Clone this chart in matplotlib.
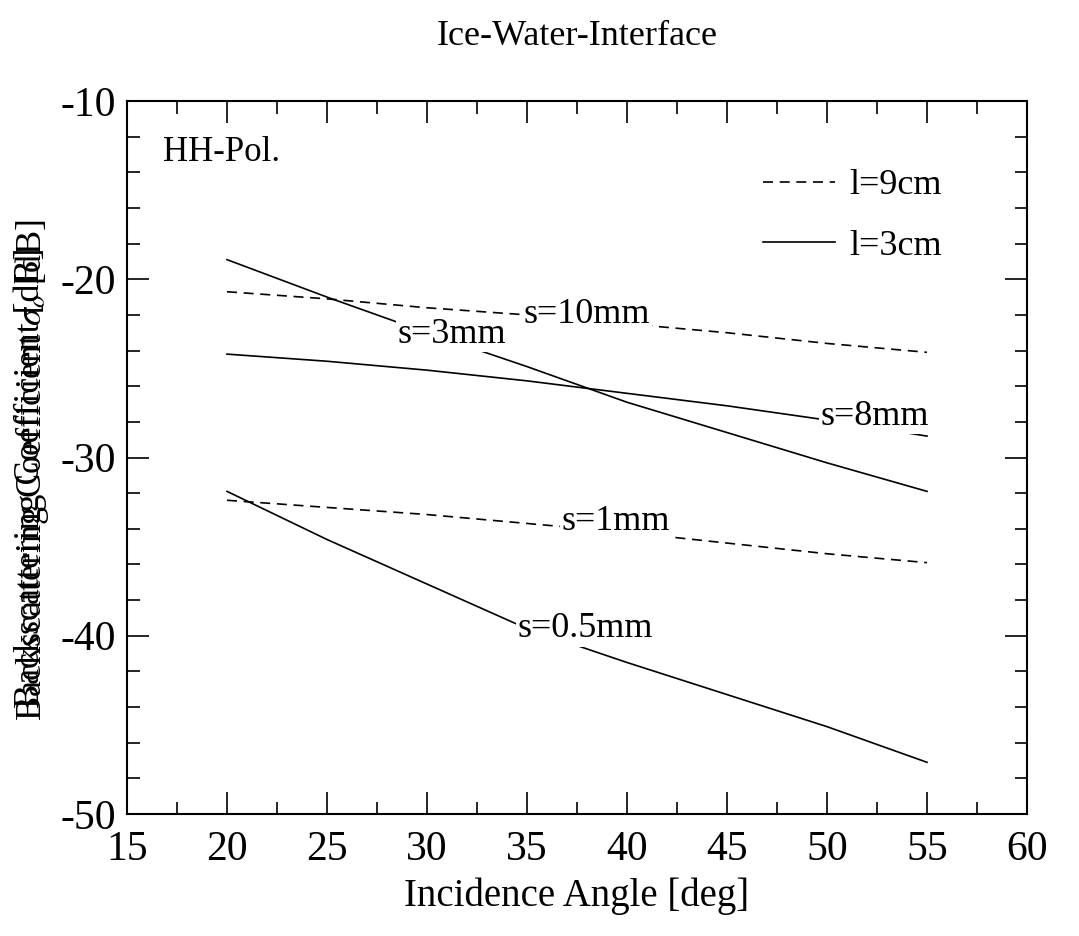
import numpy as np
from matplotlib import pyplot as plt
from matplotlib.ticker import MultipleLocator

plt.rcParams['font.family'] = ['Liberation Serif', 'DejaVu Serif']
plt.rcParams['mathtext.fontset'] = 'stix'
plt.rcParams['axes.unicode_minus'] = False

angles = [20, 25, 30, 35, 40, 45, 50, 55]
# l=9cm (dashed)
s10_l9 = [-20.7, -21.1, -21.6, -22.0, -22.5, -23.0, -23.6, -24.1]
s1_l9 = [-32.4, -32.8, -33.2, -33.7, -34.2, -34.8, -35.4, -35.9]
# l=3cm (solid)
s3_l3 = [-18.9, -21.0, -23.0, -24.9, -26.9, -28.6, -30.3, -31.9]
s8_l3 = [-24.2, -24.6, -25.1, -25.7, -26.4, -27.1, -27.9, -28.8]
s05_l3 = [-31.9, -34.6, -37.1, -39.6, -41.5, -43.3, -45.1, -47.1]

curve_labels = ['s=10mm', 's=3mm', 's=8mm', 's=1mm', 's=0.5mm']
label_pos = [(38.0, -22.0), (31.25, -23.1), (52.4, -27.7), (39.45, -33.6), (37.9, -39.6)]

fig = plt.figure(figsize=(10.79, 9.36), dpi=100)
ax = fig.add_axes([127 / 1079, 1 - 814 / 936, 900 / 1079, 713 / 936])

lw = 1.2
ax.plot(angles, s10_l9, 'k--', lw=lw, dashes=(6, 4), label='l=9cm')
ax.plot(angles, s3_l3, 'k-', lw=lw, label='l=3cm')
ax.plot(angles, s8_l3, 'k-', lw=lw)
ax.plot(angles, s1_l9, 'k--', lw=lw, dashes=(6, 4))
ax.plot(angles, s05_l3, 'k-', lw=lw)

for txt, (x, y) in zip(curve_labels, label_pos):
    ax.text(x, y, txt, fontsize=26, ha='center', va='center',
            bbox=dict(fc='white', ec='none', pad=1))

ax.text(19.75, -12.9, 'HH-Pol.', fontsize=25, ha='center', va='center')

ax.set_xlim(15, 60)
ax.set_ylim(-50, -10)
ax.xaxis.set_major_locator(MultipleLocator(5))
ax.xaxis.set_minor_locator(MultipleLocator(2.5))
ax.yaxis.set_major_locator(MultipleLocator(10))
ax.yaxis.set_minor_locator(MultipleLocator(2))
ax.tick_params(which='both', direction='in', top=True, right=True, width=1.2)
ax.tick_params(which='major', length=16, labelsize=30)
ax.tick_params(which='minor', length=9)
ax.tick_params(axis='x', pad=12)
ax.tick_params(axis='y', pad=8)
for sp in ax.spines.values():
    sp.set_linewidth(1.5)

ax.legend(loc='upper right', bbox_to_anchor=(0.922, 0.925), frameon=False,
          fontsize=26, handlelength=2.0, handletextpad=0.4, labelspacing=0.75,
          borderaxespad=0)

ax.set_xlabel('Incidence Angle [deg]', fontsize=28, labelpad=6)
ax.set_title('Ice-Water-Interface', fontsize=26, pad=40)

# overlapping y labels, as in the original
fig.text(30 / 1079, 1 - 478 / 936, 'Backscattering Coefficient [dB]', fontsize=26,
         rotation=90, ha='center', va='center')
fig.text(32 / 1079, 1 - 470 / 936, r'Backscattering Coefficient $\sigma_o$ [dB]', fontsize=26,
         rotation=90, ha='center', va='center')

plt.savefig('out.png')
